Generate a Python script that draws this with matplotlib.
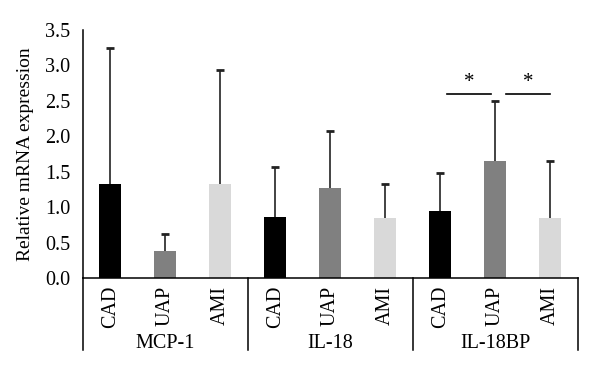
import numpy as np
import matplotlib
matplotlib.use("Agg")
import matplotlib.pyplot as plt

plt.rcParams['font.family'] = ['Liberation Serif', 'DejaVu Serif']

groups = ['MCP-1', 'IL-18', 'IL-18BP']
conditions = ['CAD', 'UAP', 'AMI']
colors = ['#000000', '#808080', '#d9d9d9']

# mean values per group, order CAD, UAP, AMI
means = {
    'MCP-1': [1.33, 0.385, 1.33],
    'IL-18': [0.86, 1.27, 0.845],
    'IL-18BP': [0.95, 1.645, 0.84],
}
# upper error (SD)
errors = {
    'MCP-1': [1.91, 0.235, 1.60],
    'IL-18': [0.70, 0.80, 0.485],
    'IL-18BP': [0.53, 0.855, 0.815],
}

fig = plt.figure(figsize=(6, 3.73), dpi=100)
ax = fig.add_axes([0.138, 0.2547, 0.825, 0.665])

x = 0
for g in groups:
    for i, c in enumerate(conditions):
        top = means[g][i] + errors[g][i]
        ax.bar(x, means[g][i], width=0.4, color=colors[i], zorder=2)
        # upper error bar only
        ax.vlines(x, means[g][i], top, color='#222222', lw=1.2, zorder=3)
        ax.plot([x - 0.07, x + 0.07], [top, top], color='#222222', lw=2, zorder=3,
                solid_capstyle='butt')
        ax.text(x, -0.11, c, rotation=90, ha='center', va='top', fontsize=14.5)
        x += 1

ax.set_xlim(-0.5, 8.5)
ax.set_ylim(0, 3.5)
ax.set_yticks(np.arange(0, 3.51, 0.5))
ax.set_yticklabels([f'{v:.1f}' for v in np.arange(0, 3.51, 0.5)], fontsize=14.5)
ax.tick_params(axis='y', length=0, pad=9)
ax.set_xticks([])
ax.set_ylabel('Relative mRNA expression', fontsize=14, labelpad=8)

for s in ['top', 'right']:
    ax.spines[s].set_visible(False)
ax.spines['left'].set_linewidth(1.1)
ax.spines['bottom'].set_linewidth(1.1)

# group separators below the axis
for xs in [-0.5, 2.5, 5.5, 8.5]:
    ax.plot([xs, xs], [0, -1.02], color='black', lw=1.1, clip_on=False)
for gi, g in enumerate(groups):
    ax.text(gi * 3 + 1, -0.93, g, ha='center', va='center', fontsize=14.5)

# significance marks for IL-18BP
for x0, x1 in [(6.12, 6.92), (7.2, 8.0)]:
    ax.plot([x0, x1], [2.6, 2.6], color='black', lw=1.2)
    ax.text((x0 + x1) / 2, 2.63, '*', ha='center', va='bottom', fontsize=15)

fig.savefig('out.png', dpi=100)
